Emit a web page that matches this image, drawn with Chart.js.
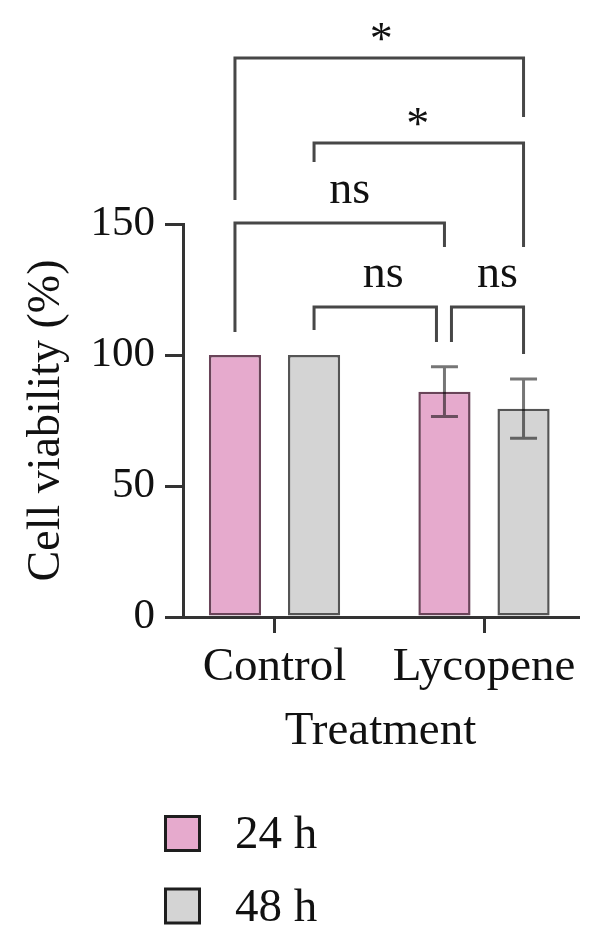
<!DOCTYPE html>
<html>
<head>
<meta charset="utf-8">
<script src="https://cdn.jsdelivr.net/npm/chart.js@4/dist/chart.umd.min.js"></script>
<style>
  html, body { margin: 0; padding: 0; background: #ffffff; }
  #wrap { position: relative; width: 600px; height: 946px; }
</style>
</head>
<body>
<div id="wrap"><canvas id="c"></canvas></div>
<script>
// ---- data ----
const categories = ['Control', 'Lycopene'];
const seriesLabels = ['24 h', '48 h'];
const values24 = [100, 86];
const values48 = [100, 79.5];
const errors24 = [0, 9.5];
const errors48 = [0, 11.3];
const yTickValues = [0, 50, 100, 150];
const xTitle = 'Treatment';
const yTitle = 'Cell viability (%)';
// significance brackets (bars: 0 Control 24h, 1 Control 48h, 2 Lycopene 24h, 3 Lycopene 48h)
const bracketLabels = ['*', '*', 'ns', 'ns', 'ns'];
const bracketFromBar = [0, 1, 0, 1, 2];
const bracketToBar = [3, 3, 2, 2, 3];
const bracketLevel = [213.4, 180.9, 150.4, 118.3, 118.3];
const bracketFromEnd = [159.2, 173.7, 108.8, 109.5, 105];
const bracketToEnd = [190.8, 141.2, 141.2, 105, 100.4];

// ---- styles ----
const FONT = "'Liberation Serif', 'Times New Roman', serif";
const AXIS = '#333333';
const style = {
  fills: ['#E6AACD', '#D4D4D4'],
  borders: ['#6A4459', '#555555'],
  bracketColor: '#474747',
  bracketWidth: 3,
  legNudge: [[0, 0], [0, 0], [0, 0], [0, -8], [7, 0]],
  labelDx: [2, -1, 10, 8, 10],
  errColor: '#767676',
  capHalf: 13.5
};

const errors = [errors24, errors48];

function barX(chart, k) {
  return chart.getDatasetMeta(k % 2).data[Math.floor(k / 2)].x;
}

const errorBarPlugin = {
  id: 'errorBars',
  afterDatasetsDraw(chart) {
    const ctx = chart.ctx;
    const y = chart.scales.y;
    ctx.save();
    ctx.globalCompositeOperation = 'multiply';
    ctx.strokeStyle = style.errColor;
    ctx.lineWidth = 3;
    chart.data.datasets.forEach((ds, di) => {
      const meta = chart.getDatasetMeta(di);
      meta.data.forEach((bar, i) => {
        const e = errors[di][i];
        if (!e) return;
        const v = ds.data[i].y;
        const yt = y.getPixelForValue(v + e);
        const yb = y.getPixelForValue(v - e);
        ctx.beginPath();
        ctx.moveTo(bar.x, yt); ctx.lineTo(bar.x, yb);
        ctx.moveTo(bar.x - style.capHalf, yt); ctx.lineTo(bar.x + style.capHalf, yt);
        ctx.moveTo(bar.x - style.capHalf, yb); ctx.lineTo(bar.x + style.capHalf, yb);
        ctx.stroke();
      });
    });
    ctx.restore();
  }
};

const bracketPlugin = {
  id: 'brackets',
  afterDraw(chart) {
    const ctx = chart.ctx;
    const y = chart.scales.y;
    ctx.save();
    ctx.strokeStyle = style.bracketColor;
    ctx.lineWidth = style.bracketWidth;
    ctx.lineCap = 'butt';
    ctx.lineJoin = 'miter';
    ctx.fillStyle = '#111';
    ctx.font = '46px ' + FONT;
    ctx.textAlign = 'center';
    ctx.textBaseline = 'alphabetic';
    bracketLabels.forEach((lab, i) => {
      const x1 = barX(chart, bracketFromBar[i]) + style.legNudge[i][0];
      const x2 = barX(chart, bracketToBar[i]) + style.legNudge[i][1];
      const yl = y.getPixelForValue(bracketLevel[i]);
      const y1 = y.getPixelForValue(bracketFromEnd[i]);
      const y2 = y.getPixelForValue(bracketToEnd[i]);
      ctx.beginPath();
      ctx.moveTo(x1, y1); ctx.lineTo(x1, yl); ctx.lineTo(x2, yl); ctx.lineTo(x2, y2);
      ctx.stroke();
      const gap = lab === '*' ? 4 : 20;
      ctx.fillText(lab, (x1 + x2) / 2 + style.labelDx[i], yl - gap);
    });
    ctx.restore();
  }
};

const legendPlugin = {
  id: 'vLegend',
  afterDraw(chart) {
    const ctx = chart.ctx;
    const top0 = chart.scales.x.bottom + 55;
    ctx.save();
    ctx.font = '47px ' + FONT;
    ctx.textAlign = 'left';
    ctx.textBaseline = 'alphabetic';
    chart.data.datasets.forEach((ds, i) => {
      const top = top0 + i * 72.5;
      ctx.fillStyle = ds.backgroundColor;
      ctx.fillRect(165.5, top + 1.5, 34, 34);
      ctx.strokeStyle = '#1e1e1e';
      ctx.lineWidth = 3;
      ctx.strokeRect(165.5, top + 1.5, 34, 34);
      ctx.fillStyle = '#111';
      ctx.fillText(ds.label, 235, top + 33);
    });
    ctx.restore();
  }
};

const datasets = [values24, values48].map((vals, di) => ({
  label: seriesLabels[di],
  data: vals.map((v, i) => ({ x: i, y: v })),
  backgroundColor: style.fills[di],
  borderColor: style.borders[di],
  borderWidth: 2.5,
  borderSkipped: false,
  categoryPercentage: 0.755,
  barPercentage: 0.66
}));

new Chart(document.getElementById('c'), {
  type: 'bar',
  data: { datasets },
  options: {
    responsive: true,
    maintainAspectRatio: false,
    animation: false,
    devicePixelRatio: 1,
    layout: { padding: { left: 0, right: 22, top: 224, bottom: 186 } },
    plugins: { legend: { display: false }, tooltip: { enabled: false } },
    scales: {
      x: {
        type: 'linear',
        min: -0.4368,
        max: 1.4487,
        offset: false,
        afterBuildTicks: s => { s.ticks = categories.map((c, i) => ({ value: i })); },
        afterFit: s => { s.height = 143; },
        ticks: {
          callback: (v) => categories[v],
          font: { family: FONT, size: 47 },
          color: '#111',
          padding: 6,
          maxRotation: 0,
          autoSkip: false
        },
        grid: { offset: false, drawOnChartArea: false, drawTicks: true, tickLength: 16, tickColor: AXIS, tickWidth: 3, lineWidth: 3, color: AXIS },
        border: { display: true, color: AXIS, width: 3 },
        title: { display: true, text: xTitle, font: { family: FONT, size: 47 }, color: '#111', padding: { top: 0, bottom: 0 } }
      },
      y: {
        min: 0,
        max: 150,
        afterBuildTicks: s => { s.ticks = yTickValues.map(v => ({ value: v })); },
        afterFit: s => { s.width = 183; },
        ticks: {
          font: { family: FONT, size: 43 },
          color: '#111',
          padding: 10
        },
        grid: { drawOnChartArea: false, drawTicks: true, tickLength: 18, tickColor: AXIS, tickWidth: 3, lineWidth: 3, color: AXIS },
        border: { display: true, color: AXIS, width: 3 },
        title: { display: true, text: yTitle, font: { family: FONT, size: 46 }, color: '#111', padding: { top: 19, bottom: 0 } }
      }
    }
  },
  plugins: [errorBarPlugin, bracketPlugin, legendPlugin]
});
</script>
</body>
</html>
